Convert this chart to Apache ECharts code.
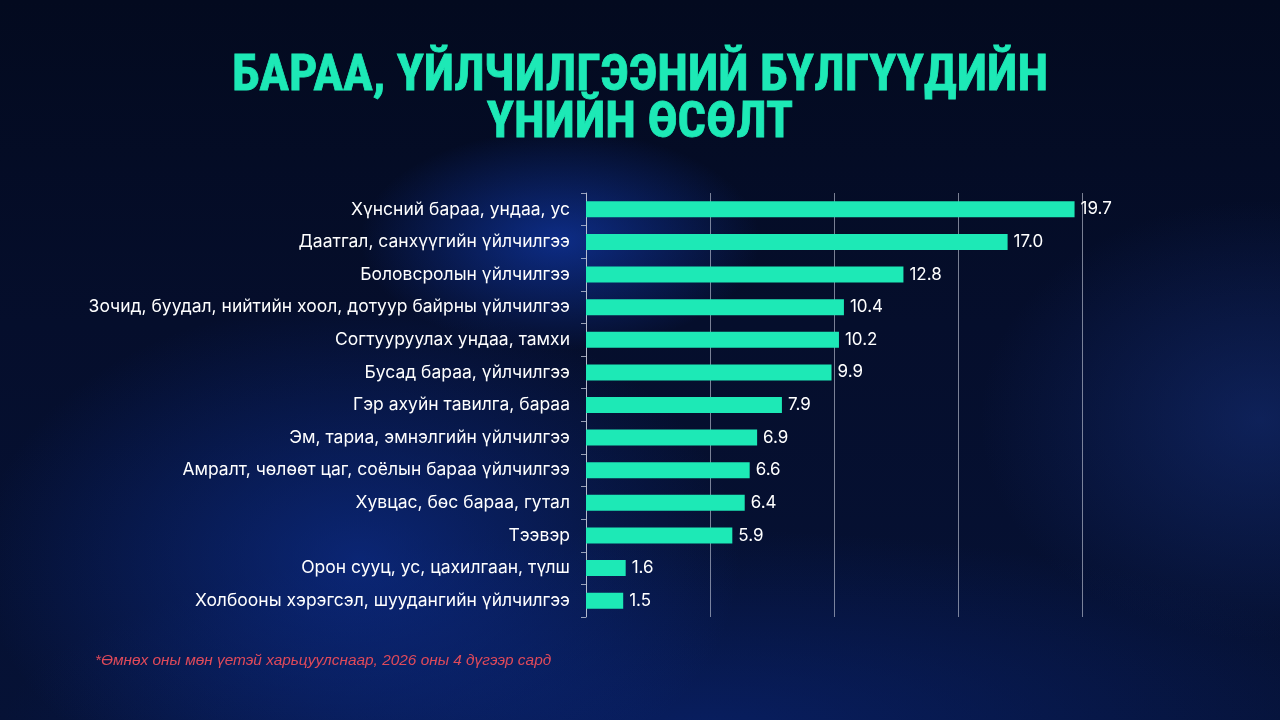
<!DOCTYPE html>
<html><head><meta charset="utf-8">
<script src="https://cdn.jsdelivr.net/npm/echarts@6/dist/echarts.min.js"></script>
<style>
html,body{margin:0;padding:0;width:1280px;height:720px;overflow:hidden;}
body{background:
 radial-gradient(ellipse 200px 110px at 560px 240px, rgba(20,70,210,0.55), rgba(20,70,210,0) 100%),
 radial-gradient(ellipse 380px 260px at 360px 560px, rgba(15,55,170,0.55), rgba(15,55,170,0) 100%),
 radial-gradient(ellipse 280px 220px at 1260px 420px, rgba(25,55,140,0.45), rgba(25,55,140,0) 100%),
 radial-gradient(ellipse 700px 200px at 700px 730px, rgba(10,40,130,0.55), rgba(10,40,130,0) 100%),
 linear-gradient(180deg,#030a1f 0%,#050e2c 45%,#061236 100%);}
#c{width:1280px;height:720px;}
</style></head>
<body><div id="c"></div>
<script>
const categories = [
 "Хүнсний бараа, ундаа, ус",
 "Даатгал, санхүүгийн үйлчилгээ",
 "Боловсролын үйлчилгээ",
 "Зочид, буудал, нийтийн хоол, дотуур байрны үйлчилгээ",
 "Согтууруулах ундаа, тамхи",
 "Бусад бараа, үйлчилгээ",
 "Гэр ахуйн тавилга, бараа",
 "Эм, тариа, эмнэлгийн үйлчилгээ",
 "Амралт, чөлөөт цаг, соёлын бараа үйлчилгээ",
 "Хувцас, бөс бараа, гутал",
 "Тээвэр",
 "Орон сууц, ус, цахилгаан, түлш",
 "Холбооны хэрэгсэл, шуудангийн үйлчилгээ"
];
const values = [19.7, 17.0, 12.8, 10.4, 10.2, 9.9, 7.9, 6.9, 6.6, 6.4, 5.9, 1.6, 1.5];
const titleText = "БАРАА, ҮЙЛЧИЛГЭЭНИЙ БҮЛГҮҮДИЙН\nҮНИЙН ӨСӨЛТ";
const footnote = "*Өмнөх оны мөн үетэй харьцуулснаар, 2026 оны 4 дүгээр сард";

const chart = echarts.init(document.getElementById('c'), null, {renderer:'canvas'});
chart.setOption({
  backgroundColor: 'transparent',
  animation: false,
  title: {
    text: titleText,
    left: 'center',
    top: 49,
    textStyle: {
      color: '#1de9b6',
      fontFamily: '"Liberation Sans Narrow", "Roboto Condensed", Arial Narrow, sans-serif',
      fontWeight: 'bold',
      fontSize: 50,
      lineHeight: 47,
      align: 'center',
      textBorderColor: '#1de9b6',
      textBorderWidth: 0.8
    }
  },
  graphic: [{
    type: 'text',
    left: 95,
    top: 653,
    style: {
      text: footnote,
      fill: '#e04a5a',
      font: 'italic 15.4px "Liberation Sans Narrow", "Liberation Sans", Arial, sans-serif'
    }
  }],
  grid: {left: 586, right: 198, top: 193, bottom: 103, containLabel: false},
  xAxis: {
    type: 'value', min: 0, max: 20, interval: 5,
    axisLabel: {show: false},
    axisLine: {show: false},
    axisTick: {show: false},
    splitLine: {show: true, lineStyle: {color: 'rgba(200,205,220,0.6)', width: 1}}
  },
  yAxis: {
    type: 'category', inverse: true, data: categories,
    axisLine: {show: true, lineStyle: {color: 'rgba(200,205,220,0.75)', width: 1}},
    axisTick: {show: true, length: 5, lineStyle: {color: 'rgba(200,205,220,0.75)'}},
    axisLabel: {color: '#ffffff', fontSize: 17.5, margin: 16, fontFamily: 'Inter, Roboto, sans-serif'}
  },
  series: [{
    type: 'bar', data: values, barWidth: 16,
    itemStyle: {color: '#1de9b6'},
    label: {
      show: true, position: 'right', distance: 6,
      color: '#ffffff', fontSize: 17, fontFamily: 'Inter, Roboto, sans-serif',
      formatter: p => p.value.toFixed(1)
    }
  }]
});
</script></body></html>
